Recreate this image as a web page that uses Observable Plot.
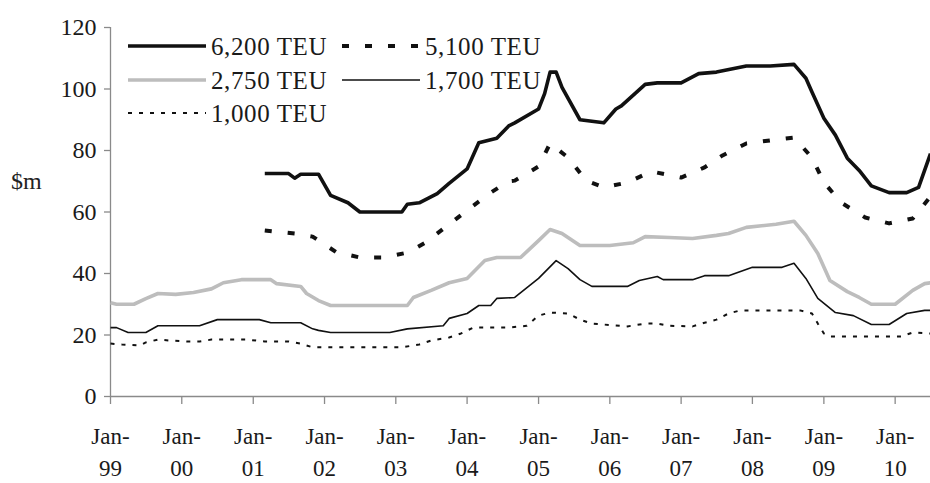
<!DOCTYPE html>
<html>
<head>
<meta charset="utf-8">
<script src="https://cdn.jsdelivr.net/npm/d3@7"></script>
<script src="https://cdn.jsdelivr.net/npm/@observablehq/plot@0.6"></script>
<style>
  html, body { margin: 0; padding: 0; background: #fff; }
  #wrap { position: relative; width: 930px; height: 483px; overflow: hidden; font-family: "Liberation Serif", "Times New Roman", serif; }
  #wrap svg text { font-family: "Liberation Serif", "Times New Roman", serif; }
  #ylab { position: absolute; left: 11px; top: 168px; font-size: 24px; color: #222; }
  #legend { position: absolute; left: 0; top: 0; }
</style>
</head>
<body>
<div id="wrap"></div>
<script>
// ---- data ----
const seriesNames = ["6,200 TEU", "5,100 TEU", "2,750 TEU", "1,700 TEU", "1,000 TEU"];

const teu6200Dates = ["2001-03","2001-07","2001-08","2001-09","2001-12","2002-02","2002-05","2002-07","2003-02","2003-03","2003-05","2003-08","2003-10","2004-01","2004-03","2004-06","2004-08","2004-09","2005-01","2005-02","2005-03","2005-04","2005-05","2005-08","2005-12","2006-02","2006-03","2006-07","2006-09","2007-01","2007-04","2007-07","2007-12","2008-04","2008-08","2008-10","2008-11","2009-01","2009-03","2009-05","2009-07","2009-09","2009-12","2010-03","2010-05","2010-07"];
const teu6200Values = [72.5,72.5,71,72.3,72.3,65.4,63,60,60,62.5,63,66,69.3,74,82.5,84,88,89,93.5,98.5,105.5,105.5,100.5,90,89,93.5,94.5,101.5,102,102,105,105.5,107.5,107.5,108,103.5,99,90.5,85,77.5,73.5,68.5,66.3,66.3,68,79];

const teu5100Dates = ["2001-03","2001-08","2001-11","2002-03","2002-07","2002-11","2003-03","2003-06","2003-10","2004-02","2004-05","2004-08","2004-09","2005-01","2005-03","2005-06","2005-09","2005-12","2006-04","2006-08","2007-01","2007-05","2007-08","2007-12","2008-04","2008-08","2008-11","2009-01","2009-04","2009-08","2009-12","2010-04","2010-07"];
const teu5100Values = [54,53,52,47,45.2,45.2,46.8,50,56,62,66.3,70,70.2,74.8,82.3,77.7,70.2,68,69.6,73.2,71.2,74.5,78.4,82.3,83.3,84.2,77.7,69.6,63,58.2,56.3,57.9,65];

const teu2750Dates = ["1999-01","1999-02","1999-05","1999-07","1999-09","1999-12","2000-03","2000-06","2000-08","2000-11","2001-04","2001-05","2001-09","2001-10","2001-12","2002-02","2003-03","2003-04","2003-07","2003-10","2004-01","2004-04","2004-06","2004-10","2005-01","2005-03","2005-05","2005-08","2006-01","2006-05","2006-07","2006-11","2007-03","2007-07","2007-09","2007-12","2008-05","2008-08","2008-10","2008-12","2009-02","2009-05","2009-07","2009-09","2010-01","2010-04","2010-06","2010-07"];
const teu2750Values = [30.5,30,30,31.8,33.5,33.2,33.8,35,37,38,38,36.7,35.8,33.5,31.2,29.6,29.6,32.2,34.5,37,38.4,44.2,45.2,45.2,50.7,54.3,53,49.1,49.1,50,52,51.7,51.4,52.4,53,55,56,57,52.4,46.5,37.7,34.1,32.2,30,30,34.5,36.7,37];

const teu1700Dates = ["1999-01","1999-02","1999-04","1999-07","1999-09","2000-04","2000-07","2001-02","2001-04","2001-09","2001-11","2001-12","2002-02","2002-12","2003-03","2003-09","2003-10","2004-01","2004-03","2004-05","2004-06","2004-09","2005-01","2005-04","2005-06","2005-08","2005-10","2006-04","2006-06","2006-09","2006-10","2007-03","2007-05","2007-09","2008-01","2008-06","2008-08","2008-10","2008-12","2009-03","2009-06","2009-09","2009-12","2010-03","2010-06","2010-07"];
const teu1700Values = [22.4,22.4,20.8,20.8,23,23,25,25,24,24,22,21.5,20.8,20.8,22,23,25.4,27,29.6,29.6,31.9,32.2,38.4,44.2,41.6,38,35.8,35.8,37.7,39,38,38,39.3,39.3,42,42,43.3,38.4,31.9,27.3,26.3,23.4,23.4,27,28,28];

const teu1000Dates = ["1999-01","1999-03","1999-06","1999-07","1999-09","1999-11","2000-02","2000-04","2000-06","2000-12","2001-03","2001-07","2001-09","2001-11","2003-02","2003-04","2003-05","2003-07","2003-10","2003-12","2004-02","2004-08","2004-11","2005-01","2005-03","2005-06","2005-08","2005-10","2006-04","2006-07","2006-09","2006-11","2007-03","2007-05","2007-07","2007-09","2007-11","2008-09","2008-11","2008-12","2009-01","2009-02","2010-02","2010-04","2010-07"];
const teu1000Values = [17.2,16.9,16.6,17.6,18.5,18.2,17.9,17.9,18.5,18.5,17.9,17.9,17.2,16,16,16.6,16.9,18.2,19.2,20.5,22.4,22.4,23,26.3,27.3,27,25,23.7,22.8,23.7,23.7,23,22.8,24,25,27,28,28,27,23.7,20.5,19.5,19.5,20.8,20.5];

const yTicks = [0, 20, 40, 60, 80, 100, 120];
const xTickYears = ["99","00","01","02","03","04","05","06","07","08","09","10"];
const xDomain = ["1999-01-01", "2010-07-01"];

// ---- build ----
const parse = d3.utcParse("%Y-%m");
const build = (name, dates, values) => dates.map((d, i) => ({name, date: parse(d), value: values[i]}));
const s6200 = build(seriesNames[0], teu6200Dates, teu6200Values);
const s5100 = build(seriesNames[1], teu5100Dates, teu5100Values);
const s2750 = build(seriesNames[2], teu2750Dates, teu2750Values);
const s1700 = build(seriesNames[3], teu1700Dates, teu1700Values);
const s1000 = build(seriesNames[4], teu1000Dates, teu1000Values);

const xTicks = xTickYears.map((yy, i) => ({date: new Date(Date.UTC(1999 + i, 0, 1)), yy}));
const start = new Date(xDomain[0]);

const styles = {
  "6,200 TEU": {stroke: "#111", strokeWidth: 3.6, dash: null},
  "5,100 TEU": {stroke: "#111", strokeWidth: 4, dash: "7,16"},
  "2,750 TEU": {stroke: "#bdbdbd", strokeWidth: 3.6, dash: null},
  "1,700 TEU": {stroke: "#111", strokeWidth: 1.6, dash: null},
  "1,000 TEU": {stroke: "#111", strokeWidth: 2, dash: "4,7"}
};
const lineMark = (data) => {
  const st = styles[data[0].name];
  return Plot.line(data, {
    x: "date", y: "value", stroke: st.stroke, strokeWidth: st.strokeWidth,
    strokeDasharray: st.dash || undefined, strokeLinecap: "butt", strokeLinejoin: "round", clip: true
  });
};

const chart = Plot.plot({
  width: 930,
  height: 483,
  marginLeft: 110,
  marginRight: 0,
  marginTop: 27,
  marginBottom: 87,
  style: {background: "#fff", fontFamily: "Liberation Serif, serif", fontSize: "23px", overflow: "hidden"},
  x: {type: "utc", domain: xDomain.map(d => new Date(d)), axis: null},
  y: {domain: [0, 120], axis: null},
  marks: [
    // axis lines
    Plot.ruleY([0], {stroke: "#8a8a8a", strokeWidth: 1.3}),
    Plot.ruleX([start], {y1: 0, y2: 120, stroke: "#8a8a8a", strokeWidth: 1.3}),
    // y ticks + labels
    Plot.ruleY(yTicks, {x1: start, x2: start, insetLeft: -6, stroke: "#8a8a8a", strokeWidth: 1.3}),
    Plot.text(yTicks, {x: start, y: d => d, text: d => String(d), textAnchor: "end", dx: -14, fill: "#1a1a1a", fontSize: 24}),
    // x ticks + labels
    Plot.ruleX(xTicks, {x: "date", y1: 0, y2: 0, insetBottom: -8, stroke: "#8a8a8a", strokeWidth: 1.3}),
    Plot.text(xTicks, {x: "date", y: () => 0, text: () => "Jan-", dy: 40, fill: "#1a1a1a", fontSize: 23}),
    Plot.text(xTicks, {x: "date", y: () => 0, text: "yy", dy: 72, fill: "#1a1a1a", fontSize: 23}),
    // series
    lineMark(s1000),
    lineMark(s1700),
    lineMark(s2750),
    lineMark(s5100),
    lineMark(s6200)
  ]
});

const wrap = document.getElementById("wrap");
wrap.appendChild(chart);

// y label
const ylab = document.createElement("div");
ylab.id = "ylab";
ylab.textContent = "$m";
wrap.appendChild(ylab);

// legend (inside plot area, top-left)
const legendItems = [
  {name: seriesNames[0], col: 0, row: 0},
  {name: seriesNames[1], col: 1, row: 0},
  {name: seriesNames[2], col: 0, row: 1},
  {name: seriesNames[3], col: 1, row: 1},
  {name: seriesNames[4], col: 0, row: 2}
];
const colX = [128, 342];
const rowY = [46, 80, 113];
const ns = "http://www.w3.org/2000/svg";
const lg = document.createElementNS(ns, "svg");
lg.setAttribute("id", "legend");
lg.setAttribute("width", 600);
lg.setAttribute("height", 130);
legendItems.forEach(it => {
  const st = styles[it.name];
  const x0 = colX[it.col], y0 = rowY[it.row];
  const ln = document.createElementNS(ns, "line");
  ln.setAttribute("x1", x0); ln.setAttribute("x2", x0 + 78);
  ln.setAttribute("y1", y0); ln.setAttribute("y2", y0);
  ln.setAttribute("stroke", st.stroke);
  ln.setAttribute("stroke-width", st.strokeWidth);
  if (st.dash) ln.setAttribute("stroke-dasharray", st.dash);
  lg.appendChild(ln);
  const tx = document.createElementNS(ns, "text");
  tx.setAttribute("x", x0 + 83);
  tx.setAttribute("y", y0);
  tx.setAttribute("dy", "0.35em");
  tx.setAttribute("font-size", 25);
  tx.setAttribute("letter-spacing", "0.6");
  tx.setAttribute("fill", "#1a1a1a");
  tx.textContent = it.name;
  lg.appendChild(tx);
});
wrap.appendChild(lg);
</script>
</body>
</html>
